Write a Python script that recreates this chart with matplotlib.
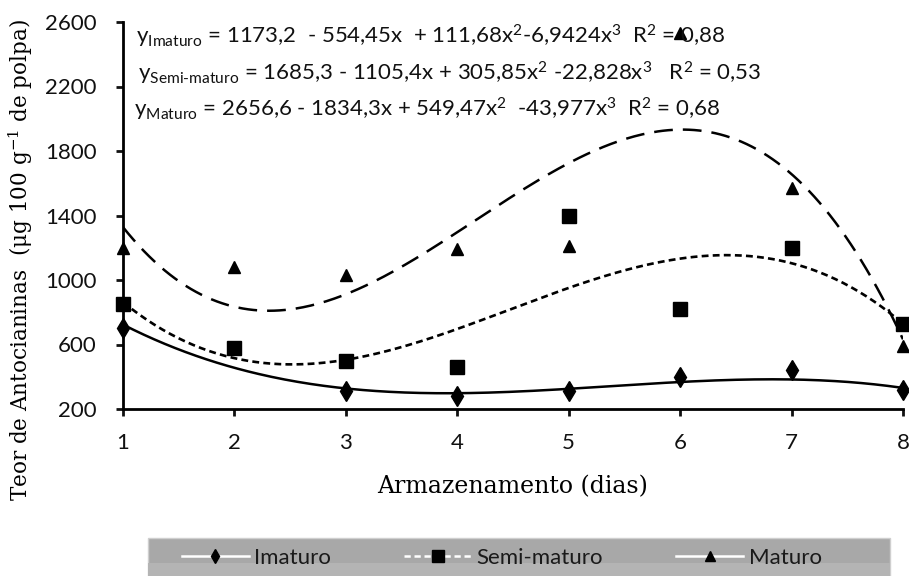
import numpy as np
import matplotlib
matplotlib.use("Agg")
import matplotlib.pyplot as plt
from matplotlib.lines import Line2D
from matplotlib.patches import Rectangle

# Storage days
dias = [1, 2, 3, 4, 5, 6, 7, 8]

# Anthocyanin content (ug 100 g-1 of pulp) per ripening stage
imaturo = [700, np.nan, 310, 280, 310, 400, 440, 320]
semi_maturo = [850, 580, 500, 460, 1400, 820, 1200, 730]
maturo = [1200, 1080, 1030, 1190, 1210, 2530, 1570, 590]

# Cubic trend coefficients (c0, c1, c2, c3)
coef_imaturo = [1173.2, -554.45, 111.68, -6.9424]
coef_semi = [1685.3, -1105.4, 305.85, -22.828]
coef_maturo = [2656.6, -1834.3, 549.47, -43.977]

y_ticks = [200, 600, 1000, 1400, 1800, 2200, 2600]

SANS = "Lato"
SERIF = "DejaVu Serif"
plt.rcParams["mathtext.fontset"] = "custom"
plt.rcParams["mathtext.rm"] = SANS
plt.rcParams["mathtext.it"] = SANS
plt.rcParams["font.family"] = SANS

fig = plt.figure(figsize=(9.09, 5.76), dpi=100)
ax = fig.add_axes([123 / 909, 1 - 409 / 576, (903 - 123) / 909, (409 - 22) / 576])


def poly(c, x):
    return c[0] + c[1] * x + c[2] * x ** 2 + c[3] * x ** 3


xs = np.linspace(1, 8, 300)
ax.plot(xs, poly(coef_imaturo, xs), color="black", lw=1.8, ls="-")
ax.plot(xs, poly(coef_semi, xs), color="black", lw=1.9, ls=(0, (2.6, 1.6)))
ax.plot(xs, poly(coef_maturo, xs), color="black", lw=1.8, ls=(0, (7.5, 4)))

ax.plot(dias, imaturo, ls="none", marker="d", ms=10, color="black", clip_on=False, zorder=5)
ax.plot(dias, semi_maturo, ls="none", marker="s", ms=9.5, color="black", clip_on=False, zorder=5)
ax.plot(dias, maturo, ls="none", marker="^", ms=8.5, color="black", clip_on=False, zorder=5)

ax.set_xlim(1, 8)
ax.set_ylim(200, 2600)
ax.set_xticks(dias)
ax.set_yticks(y_ticks)
for s in ["top", "right"]:
    ax.spines[s].set_visible(False)
for s in ["left", "bottom"]:
    ax.spines[s].set_linewidth(2)
ax.tick_params(axis="both", direction="out", length=5, width=2, labelsize=16, colors="#111111")
ax.tick_params(axis="y", pad=14)
ax.tick_params(axis="x", pad=12)

ax.set_xlabel("Armazenamento (dias)", family=SERIF, fontsize=17)
ax.xaxis.set_label_coords(0.5, -0.17)
ax.set_ylabel("Teor de Antocianinas  (μg 100 g$^{\\mathregular{-1}}$ de polpa)",
              family=SERIF, fontsize=15.5)
ax.yaxis.set_label_coords(-0.113, 0.385)

eq_kw = dict(transform=fig.transFigure, fontsize=16, ha="left", va="center", color="#111111")
fig.text(136 / 909, 1 - 36 / 576,
         r"y$_{\mathrm{Imaturo}}$ = 1173,2  - 554,45x  + 111,68x$^{2}$-6,9424x$^{3}$  R$^{2}$ = 0,88", **eq_kw)
fig.text(138 / 909, 1 - 73 / 576,
         r"y$_{\mathrm{Semi\text{-}maturo}}$ = 1685,3 - 1105,4x + 305,85x$^{2}$ -22,828x$^{3}$   R$^{2}$ = 0,53", **eq_kw)
fig.text(134 / 909, 1 - 109 / 576,
         r"y$_{\mathrm{Maturo}}$ = 2656,6 - 1834,3x + 549,47x$^{2}$  -43,977x$^{3}$  R$^{2}$ = 0,68", **eq_kw)

# Legend band
fig.patches.append(Rectangle((148 / 909, 0), (890 - 148) / 909, 38 / 576,
                             transform=fig.transFigure, facecolor="#a8a8a8",
                             edgecolor="#cfcfcf", lw=1, zorder=0))
fig.patches.append(Rectangle((148 / 909, 0), (890 - 148) / 909, 13 / 576,
                             transform=fig.transFigure, facecolor="#b4b4b4",
                             edgecolor="none", zorder=0))
handles = [
    Line2D([], [], color="white", lw=1.8, ls="-", marker="d", ms=7, mfc="black", mec="black"),
    Line2D([], [], color="white", lw=1.8, ls=(0, (2.5, 1.5)), marker="s", ms=8, mfc="black", mec="black"),
    Line2D([], [], color="white", lw=1.8, ls="-", marker="^", ms=7, mfc="black", mec="black"),
]
fig.legend(handles, ["Imaturo", "Semi-maturo", "Maturo"], ncol=3, frameon=False,
           loc="center left", bbox_to_anchor=(162 / 909, 1 - 558 / 576),
           fontsize=16, handlelength=3.0, handletextpad=0.25, columnspacing=3.3,
           labelcolor="#1a1a1a")

fig.savefig("out.png", dpi=100, facecolor="white")
